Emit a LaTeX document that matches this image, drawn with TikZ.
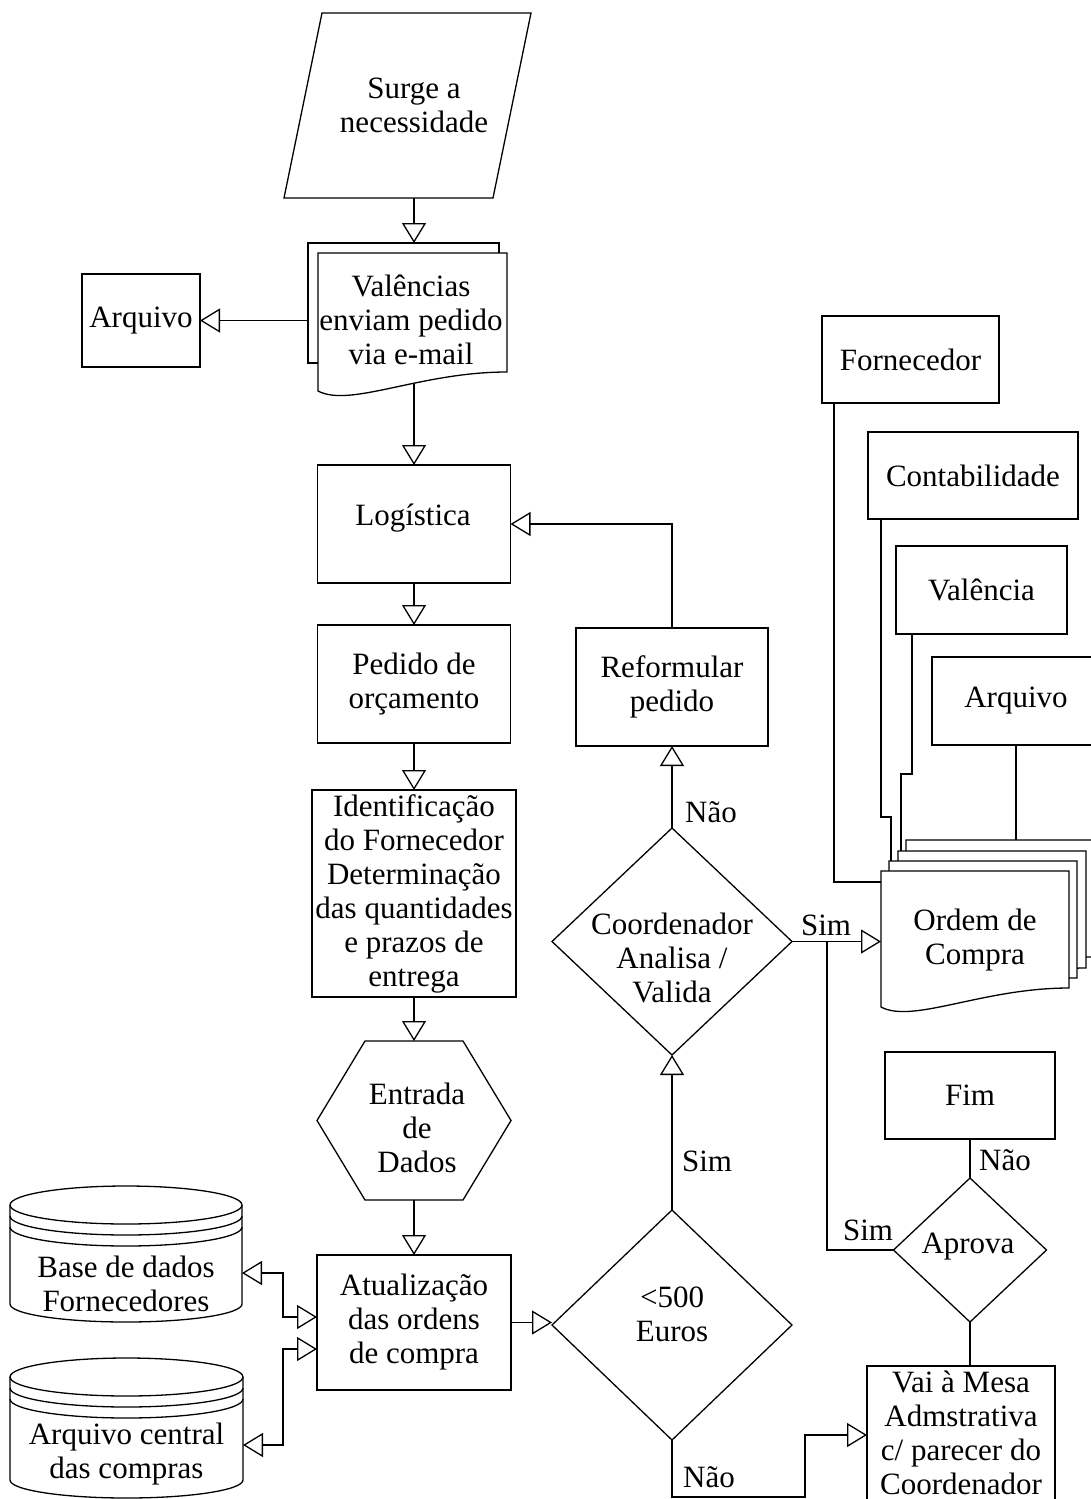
\documentclass[tikz,border=0pt]{standalone}
\usepackage{fontspec}
\setmainfont{Liberation Serif}
\usetikzlibrary{arrows.meta,shapes.geometric}

% document symbol: left x, right x, top y, lower-right y (wavy bottom edge)
\newcommand\flowdoc[4]{%
  \draw[fill=white] (#1,{#4+19}) -- (#1,#3) -- (#2,#3) -- (#2,#4)
    .. controls ({#1+0.54*(#2-#1)},#4) and ({#1+0.17*(#2-#1)},{#4+36}) .. (#1,{#4+19}) -- cycle;}

% stored-data cylinder: centre x, half width, top-ellipse centre y, bottom centre y
\newcommand\flowdb[4]{%
  \draw[fill=white] ({#1-#2},#3) -- ({#1-#2},#4) arc[start angle=180,end angle=360,x radius=#2pt,y radius=18pt] -- ({#1+#2},#3);
  \draw[fill=white] (#1,#3) ellipse[x radius=#2pt,y radius=19pt];
  \draw ({#1-#2},{#3+11}) arc[start angle=180,end angle=360,x radius=#2pt,y radius=19pt];
  \draw ({#1-#2},{#3+22}) arc[start angle=180,end angle=360,x radius=#2pt,y radius=19pt];}

\begin{document}
\begin{tikzpicture}[x=1pt,y=-1pt,line width=1.3pt,
  every node/.style={font=\fontsize{31}{34}\selectfont,align=center,inner sep=0pt,outer sep=0pt},
  box/.style={draw,fill=white,rectangle},
  anchorbox/.style={rectangle},
  decision/.style={draw,fill=white,diamond,inner sep=0pt},
  flow/.style={-{Triangle[open,length=20pt,width=24pt]}},
  twoway/.style={{Triangle[open,length=20pt,width=24pt]}-{Triangle[open,length=20pt,width=24pt]}}]
\useasboundingbox (0,0) rectangle (1091,1499);
\clip (0,0) rectangle (1091,1499);

% ---------- start ----------
\draw[fill=white] (322,13) -- (531,13) -- (493,198) -- (284,198) -- cycle;
\node[anchorbox,minimum width=200,minimum height=185] (par) at (414,105.5) {Surge a\\necessidade};

% ---------- e-mail requests ----------
\draw[fill=white] (308,243) rectangle (499,363);
\flowdoc{318}{507}{253}{372}
\node[anchorbox,minimum width=212,minimum height=141] (docv) at (414,313.5) {};
\node (docvt) at (411,320) {Valências\\enviam pedido\\via e-mail};

\node[box,minimum width=118,minimum height=93] (arq1) at (141,320.5) {Arquivo};
\draw[flow] (arq1.east -| docv.west) -- (arq1.east);
\draw[flow] (par.south) -- (docv.north);

% ---------- main column ----------
\node[box,minimum width=193,minimum height=118] (log) at (414,524) {};
\node (logt) at (413,518) {Logística};
\draw[flow] (docv.south) -- (log.north);
\node[box,minimum width=193,minimum height=118] (ped) at (414,684) {Pedido de\\orçamento};
\draw[flow] (log.south) -- (ped.north);
\node[box,minimum width=204,minimum height=207] (ident) at (414,893.5)
  {Identificação\\do Fornecedor\\Determinação\\das quantidades\\e prazos de\\entrega};
\draw[flow] (ped.south) -- (ident.north);

\node[anchorbox,minimum width=194,minimum height=159] (hex) at (414,1120.5) {};
\draw[fill=white] ([xshift=48pt]hex.north west) -- ([xshift=-48pt]hex.north east) -- (hex.east)
  -- ([xshift=-48pt]hex.south east) -- ([xshift=48pt]hex.south west) -- (hex.west) -- cycle;
\node (hext) at (417,1128) {Entrada\\de\\Dados};
\draw[flow] (ident.south) -- (hex.north);

\node[box,minimum width=194,minimum height=135] (atu) at (414,1322.5) {Atualização\\das ordens\\de compra};
\draw[flow] (hex.south) -- (atu.north);

% ---------- databases ----------
\flowdb{126}{116}{1205}{1304}
\node[minimum width=232] (db1) at (126,1284) {Base de dados\\Fornecedores};
\flowdb{126.5}{116.5}{1377}{1480}
\node[minimum width=233] (db2) at (126.5,1454) {Arquivo central\\das compras};

\draw[twoway] ([yshift=11pt]db1.east) -- ++(41,0) |- ([yshift=5.5pt]atu.west);
\draw[twoway] ([yshift=9pt]db2.east) -- ++(40,0) |- ([yshift=-26.5pt]atu.west);

% ---------- decisions ----------
\node[decision,minimum width=240,minimum height=230] (d500) at (672,1325) {};
\node (d500t) at (672,1314) {<500\\Euros};
\draw[flow] (atu.east) -- (atu.east -| d500.west);

\node[decision,minimum width=240,minimum height=227] (coord) at (672,941.5) {};
\node (coordt) at (672,958) {Coordenador\\Analisa /\\Valida};
\draw[flow] (d500.north) -- (coord.south);

\node[box,minimum width=192,minimum height=118] (ref) at (672,687) {Reformular\\pedido};
\draw[flow] (coord.north) -- (ref.south);
\draw[flow] (ref.north) |- (log.east);

% ---------- purchase order copies ----------
\flowdoc{906}{1094}{840}{957}
\flowdoc{898}{1086}{851}{968}
\flowdoc{889}{1077}{861}{978}
\flowdoc{881}{1069}{871}{988}
\node[anchorbox,minimum width=188,minimum height=138] (ord) at (975,940) {Ordem de\\Compra};
\draw[flow] (coord.east) -- (coord.east -| ord.west);

\coordinate (ordA) at (881,882);
\coordinate (ordB) at (891,861);
\coordinate (ordC) at (901,851);
\coordinate (ordD) at (1017,840);

\node[box,minimum width=177,minimum height=87] (forn) at (910.5,359.5) {Fornecedor};
\node[box,minimum width=210,minimum height=87] (cont) at (973,475.5) {Contabilidade};
\node[box,minimum width=171,minimum height=88] (val) at (981.5,590) {Valência};
\node[box,minimum width=168,minimum height=88] (arq2) at (1016,701) {Arquivo};

\draw ([xshift=12pt]forn.south west) |- (ordA);
\draw ([xshift=13pt]cont.south west) -- ++(0,298) -| (ordB);
\draw ([xshift=16pt]val.south west) -- ++(0,140) -| (ordC);
\draw (arq2.south) -- (arq2.south |- ordD);

% ---------- approval ----------
\node[decision,minimum width=153,minimum height=144] (apr) at (970,1250) {};
\node (aprt) at (968,1247) {Aprova};
\node[box,minimum width=170,minimum height=87] (fim) at (970,1095.5) {Fim};
\node[box,minimum width=188,minimum height=150] (vai) at (961,1441) {};
\node (vait) at (961,1433) {Vai à Mesa\\Admstrativa\\c/ parecer do\\Coordenador};

\draw ([xshift=35pt]coord.east) |- (apr.west);
\draw (apr.north) -- (fim.south);
\draw (apr.south) -- (apr.south |- vai.north);
\draw[flow] (d500.south) -- ++(0,57) -- ++(133,0) |- ([yshift=6pt]vai.west);

% ---------- branch labels ----------
\node (l1) at (711,812) {Não};
\node (l2) at (826,925) {Sim};
\node (l3) at (707,1161) {Sim};
\node (l4) at (868,1230) {Sim};
\node (l5) at (1005,1160) {Não};
\node (l6) at (709,1477) {Não};
\end{tikzpicture}
\end{document}
